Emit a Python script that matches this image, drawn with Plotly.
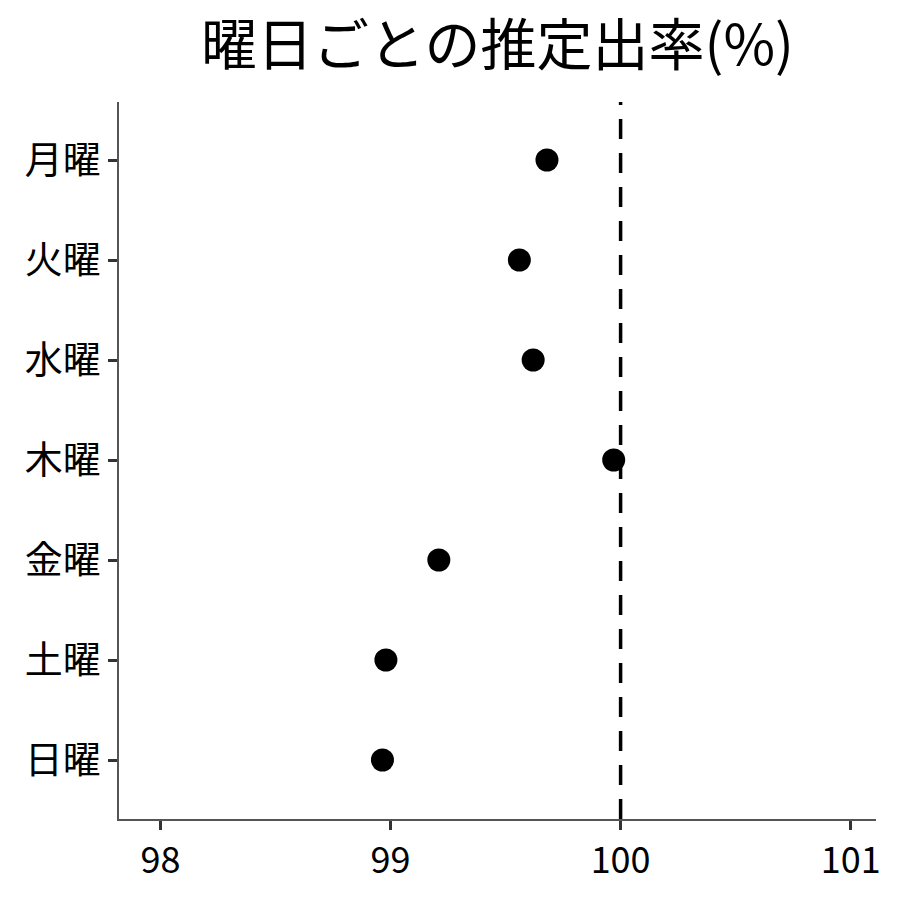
import plotly.graph_objects as go

days = ["日曜", "土曜", "金曜", "木曜", "水曜", "火曜", "月曜"]
rates = [98.965, 98.98, 99.21, 99.97, 99.62, 99.56, 99.68]
x_ticks = [98, 99, 100, 101]
ref_line = 100

font_family = "Noto Sans CJK JP"

fig = go.Figure()

fig.add_trace(go.Scatter(
    x=rates, y=days, mode="markers",
    marker=dict(size=23, color="black"),
    showlegend=False,
))

# reference line at 100%
fig.add_vline(x=ref_line, line=dict(color="black", width=3.5, dash="20px,14px"))

fig.update_layout(
    width=900, height=900,
    paper_bgcolor="white", plot_bgcolor="white",
    margin=dict(l=111, r=32, t=94, b=89),
    title=dict(text="曜日ごとの推定出率(%)", xref="paper", x=0.5, xanchor="center",
               y=0.959, yanchor="middle",
               font=dict(family=font_family, size=56, color="black")),
    font=dict(family=font_family, color="black"),
)

fig.update_xaxes(
    range=[97.82, 101.11], tickvals=x_ticks,
    showgrid=False, zeroline=False,
    showline=True, linecolor="#555555", linewidth=1.5,
    ticks="outside", ticklen=9, tickwidth=3, tickcolor="#333333",
    tickfont=dict(size=36, color="black"),
)
fig.update_yaxes(
    categoryorder="array", categoryarray=days,
    range=[-0.59, 6.58],
    showgrid=False, zeroline=False,
    showline=True, linecolor="#555555", linewidth=1.5,
    ticks="outside", ticklen=9, tickwidth=3, tickcolor="#333333",
    tickfont=dict(size=38, color="black"),
)

fig.write_html("out.html")
